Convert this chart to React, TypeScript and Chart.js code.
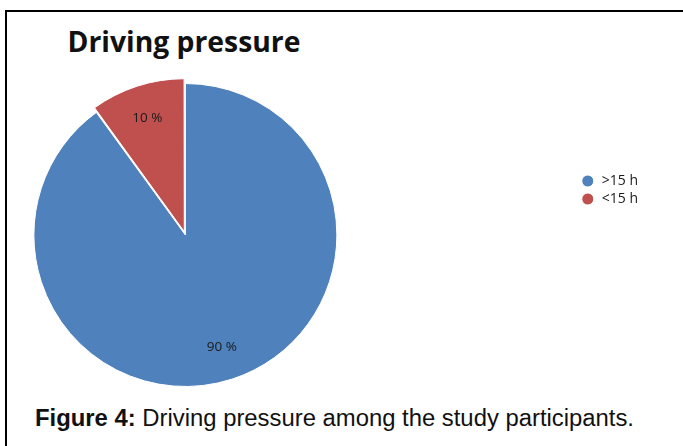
import React, { useEffect, useRef } from 'react';
import { Chart, registerables } from 'chart.js';

Chart.register(...registerables);

// ---- data ----
const categories: string[] = ['>15 h', '<15 h'];
const values: number[] = [90, 10];
const valueLabels: string[] = ['90 %', '10 %'];
const sliceColors: string[] = ['#4F81BD', '#C0504D'];
const sliceOffsets: number[] = [0, 14];
const chartTitle = 'Driving pressure';
const captionBold = 'Figure 4:';
const captionText = ' Driving pressure among the study participants.';

const sliceLabelPlugin = {
  id: 'sliceLabels',
  afterDatasetsDraw(chart: any) {
    const ctx = chart.ctx;
    const meta = chart.getDatasetMeta(0);
    ctx.save();
    ctx.font = '13.5px "Open Sans"';
    ctx.fillStyle = '#1a1a1a';
    ctx.textAlign = 'center';
    ctx.textBaseline = 'middle';
    meta.data.forEach((arc: any, i: number) => {
      const p = arc.getProps(['x', 'y', 'startAngle', 'endAngle', 'outerRadius', 'circumference'], true);
      const mid = (p.startAngle + p.endAngle) / 2;
      const off = (arc.options.offset || 0) / 4;
      const fix = 1 - Math.sin(Math.min(Math.PI, p.circumference || 0));
      const shift = off + off * fix;
      const r = p.outerRadius * 0.78 + shift;
      ctx.fillText(valueLabels[i], p.x + Math.cos(mid) * r, p.y + Math.sin(mid) * r);
    });
    ctx.restore();
  },
};

export default function App() {
  const canvasRef = useRef<HTMLCanvasElement | null>(null);

  useEffect(() => {
    if (!canvasRef.current) return;
    const chart = new Chart(canvasRef.current, {
      type: 'pie',
      data: {
        labels: categories,
        datasets: [
          {
            data: values,
            backgroundColor: sliceColors,
            borderColor: '#ffffff',
            borderWidth: 1,
            offset: sliceOffsets,
          },
        ],
      },
      options: {
        responsive: false,
        animation: false,
        layout: { padding: 0 },
        plugins: {
          title: { display: false },
          tooltip: { enabled: false },
          legend: {
            position: 'right',
            align: 'start',
            title: {
              display: true,
              text: ' ',
              font: { size: 10 },
              padding: { top: 82, bottom: 0 },
            },
            labels: {
              usePointStyle: true,
              pointStyle: 'circle',
              boxWidth: 14,
              boxHeight: 8.5,
              padding: 4,
              color: '#1a1a1a',
              font: { family: '"Open Sans"', size: 14 },
            },
          },
        },
      },
      plugins: [sliceLabelPlugin],
    } as any);
    return () => chart.destroy();
  }, []);

  return (
    <div
      style={{
        position: 'fixed',
        left: 0,
        top: 0,
        width: 683,
        height: 446,
        overflow: 'hidden',
        background: '#ffffff',
      }}
    >
      <div
        style={{
          position: 'absolute',
          left: 5,
          top: 10,
          width: 800,
          height: 600,
          borderTop: '2px solid #000',
          borderLeft: '2px solid #000',
        }}
      />
      <div
        style={{
          position: 'absolute',
          left: 67.5,
          top: 26.5,
          fontFamily: '"Open Sans", sans-serif',
          fontWeight: 700,
          fontSize: 28.3,
          lineHeight: '28.3px',
          color: '#111',
          whiteSpace: 'nowrap',
        }}
      >
        {chartTitle}
      </div>
      <canvas
        ref={canvasRef}
        width={854}
        height={318}
        style={{ position: 'absolute', left: -206, top: 76, width: 854, height: 318 }}
      />
      <div
        style={{
          position: 'absolute',
          left: 35,
          top: 406,
          fontFamily: '"Liberation Sans", Arial, sans-serif',
          fontSize: 23.85,
          lineHeight: '23.85px',
          color: '#111',
          whiteSpace: 'nowrap',
        }}
      >
        <b>{captionBold}</b>
        {captionText}
      </div>
    </div>
  );
}
